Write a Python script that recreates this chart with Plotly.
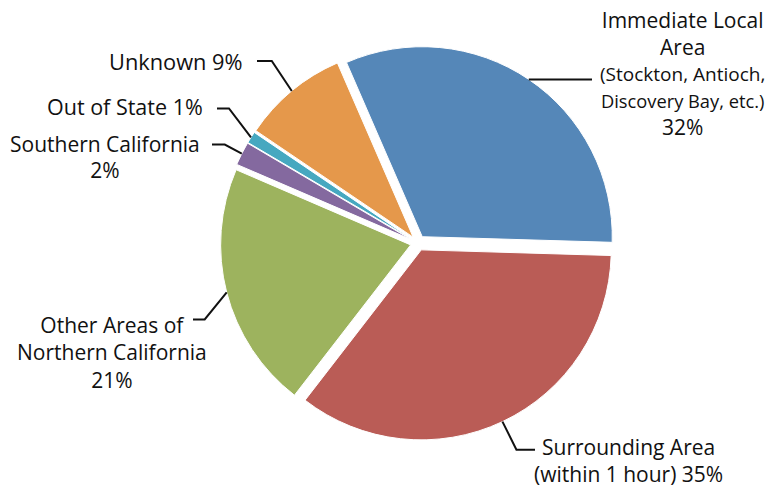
import math
import plotly.graph_objects as go

# ---- data ----
categories = [
    "Immediate Local Area (Stockton, Antioch, Discovery Bay, etc.)",
    "Surrounding Area (within 1 hour)",
    "Other Areas of Northern California",
    "Southern California",
    "Out of State",
    "Unknown",
]
values = [32, 35, 21, 2, 1, 9]
label_lines = [
    ["Immediate Local", "Area", "(Stockton, Antioch,", "Discovery Bay, etc.)", "{p}"],
    ["Surrounding Area", "(within 1 hour) {p}"],
    ["Other Areas of", "Northern California", "{p}"],
    ["Southern California", "{p}"],
    ["Out of State {p}"],
    ["Unknown {p}"],
]
colors = ["#5587B8", "#BA5C56", "#9DB35E", "#84699F", "#46A8C0", "#E5984B"]

# ---- layout / style ----
W, H = 769, 487
CX, CY = 418, 243        # pie centre (px)
R = 190                  # slice radius (px)
PULL = 0.04
ROTATION = -23.5
FONT_FAMILY = "Open Sans"
FONT_SIZE = 21
TEXT_COLOR = "#111111"

box = 2 * R * (1 + PULL)
dom_x = [(CX - box / 2) / W, (CX + box / 2) / W]
dom_y = [1 - (CY + box / 2) / H, 1 - (CY - box / 2) / H]

fig = go.Figure(go.Pie(
    labels=categories, values=values, sort=False, direction="clockwise",
    rotation=ROTATION, pull=[PULL] * len(values),
    marker=dict(colors=colors, line=dict(color="white", width=1)),
    textinfo="none", hoverinfo="label+percent", showlegend=False,
    domain=dict(x=dom_x, y=dom_y),
))

def px2paper(x, y):
    return x / W, 1 - y / H

# leader geometry: elbow offset from rim point, end x of horizontal run;
# text block placement (px), anchor, and per-line font sizes
leader_style = [
    dict(elbow=None, end_x=592, tx=682, ty=73.8, xa="center", size=20.5,
         line_sizes=[21, 21, 19, 18.3, 21]),
    dict(elbow=(14, 28), end_x=535, tx=628.5, ty=460.5, xa="center", size=20.5,
         line_sizes=[21, 21]),
    dict(elbow=(-22, 27), end_x=193, tx=112, ty=352, xa="center", size=21,
         line_sizes=[21, 21, 21]),
    dict(elbow=(-17, -9), end_x=212, tx=202, ty=157.5, xa="right", size=19.8,
         line_sizes=[21, 21]),
    dict(elbow=(-22, -29), end_x=217, tx=205, ty=107, xa="right", size=21.5,
         line_sizes=[21.5]),
    dict(elbow=(-20, -30), end_x=257, tx=245, ty=61, xa="right", size=21.8,
         line_sizes=[21.8]),
]

total = sum(values)
angle = ROTATION
shapes, annotations = [], []
for i, v in enumerate(values):
    span = 360 * v / total
    mid = math.radians(angle + span / 2)
    angle += span
    rr = R * (1 + PULL)
    rim = (CX + rr * math.sin(mid), CY - rr * math.cos(mid))
    st = leader_style[i]
    pts = [rim]
    if st["elbow"] is not None:
        pts.append((rim[0] + st["elbow"][0], rim[1] + st["elbow"][1]))
    pts.append((st["end_x"], pts[-1][1]))
    path = ""
    for k, (x, y) in enumerate(pts):
        px, py = px2paper(x, y)
        path += ("M" if k == 0 else " L") + f" {px:.5f} {py:.5f}"
    shapes.append(dict(type="path", xref="paper", yref="paper", path=path,
                       line=dict(color=TEXT_COLOR, width=2)))
    pct = f"{v}%"
    parts = []
    for line, fs in zip(label_lines[i], st["line_sizes"]):
        t = line.format(p=pct)
        if abs(fs - st["size"]) > 0.01:
            t = f'<span style="font-size:{fs}px">{t}</span>'
        parts.append(t)
    ax, ay = px2paper(st["tx"], st["ty"])
    annotations.append(dict(
        text="<br>".join(parts), x=ax, y=ay, xref="paper", yref="paper",
        xanchor=st["xa"], yanchor="middle", align="center", showarrow=False,
        font=dict(family=FONT_FAMILY, size=st["size"], color=TEXT_COLOR)))

fig.update_layout(
    width=W, height=H, margin=dict(l=0, r=0, t=0, b=0),
    paper_bgcolor="white", plot_bgcolor="white",
    shapes=shapes, annotations=annotations,
)
fig.write_html(
    "out.html",
    config={"displayModeBar": False},
    post_script="document.body.style.margin='0';document.body.style.overflow='hidden';",
)
